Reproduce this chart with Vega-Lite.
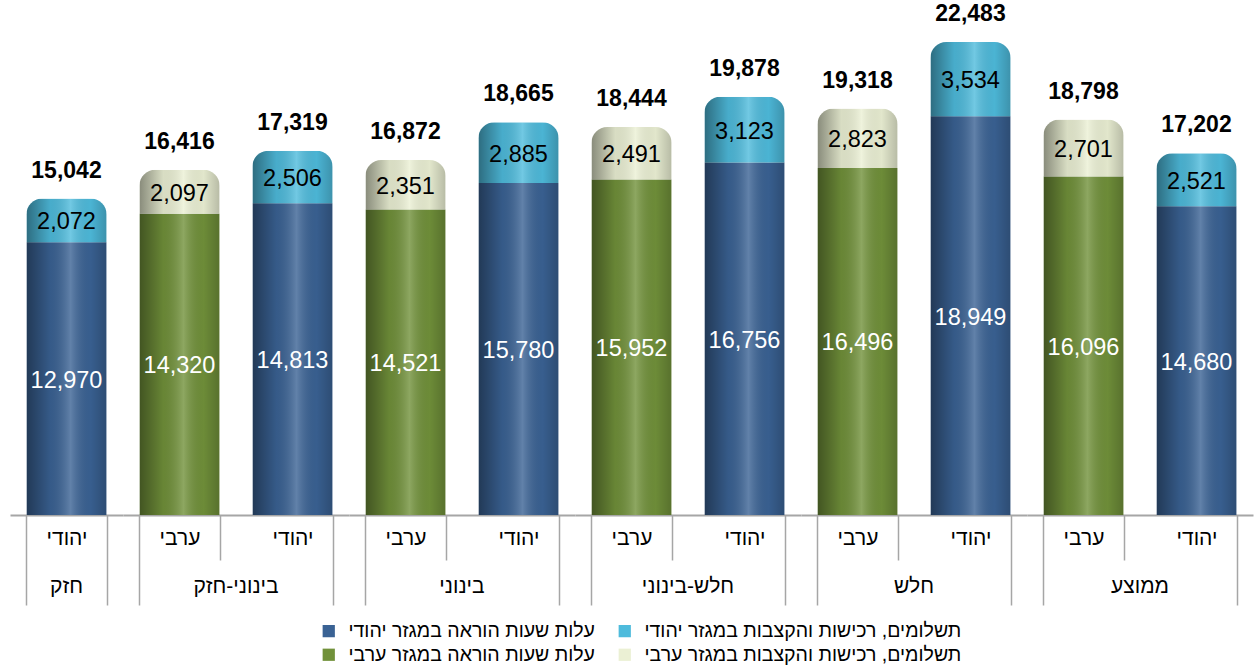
{
  "$schema": "https://vega.github.io/schema/vega-lite/v6.json",
  "padding": {"left": 10, "top": 0, "right": 5, "bottom": 0},
  "background": "white",
  "config": {"view": {"stroke": null}, "font": "Liberation Sans"},
  "data": {"values": [
    {"group": "חזק", "sector": "יהודי", "part": "עלות שעות הוראה במגזר יהודי", "kind": "teach", "value": 12970, "total": 15042},
    {"group": "חזק", "sector": "יהודי", "part": "תשלומים, רכישות והקצבות במגזר יהודי", "kind": "pay", "value": 2072, "total": 15042},
    {"group": "בינוני-חזק", "sector": "ערבי", "part": "עלות שעות הוראה במגזר ערבי", "kind": "teach", "value": 14320, "total": 16416},
    {"group": "בינוני-חזק", "sector": "ערבי", "part": "תשלומים, רכישות והקצבות במגזר ערבי", "kind": "pay", "value": 2097, "total": 16416},
    {"group": "בינוני-חזק", "sector": "יהודי", "part": "עלות שעות הוראה במגזר יהודי", "kind": "teach", "value": 14813, "total": 17319},
    {"group": "בינוני-חזק", "sector": "יהודי", "part": "תשלומים, רכישות והקצבות במגזר יהודי", "kind": "pay", "value": 2506, "total": 17319},
    {"group": "בינוני", "sector": "ערבי", "part": "עלות שעות הוראה במגזר ערבי", "kind": "teach", "value": 14521, "total": 16872},
    {"group": "בינוני", "sector": "ערבי", "part": "תשלומים, רכישות והקצבות במגזר ערבי", "kind": "pay", "value": 2351, "total": 16872},
    {"group": "בינוני", "sector": "יהודי", "part": "עלות שעות הוראה במגזר יהודי", "kind": "teach", "value": 15780, "total": 18665},
    {"group": "בינוני", "sector": "יהודי", "part": "תשלומים, רכישות והקצבות במגזר יהודי", "kind": "pay", "value": 2885, "total": 18665},
    {"group": "חלש-בינוני", "sector": "ערבי", "part": "עלות שעות הוראה במגזר ערבי", "kind": "teach", "value": 15952, "total": 18444},
    {"group": "חלש-בינוני", "sector": "ערבי", "part": "תשלומים, רכישות והקצבות במגזר ערבי", "kind": "pay", "value": 2491, "total": 18444},
    {"group": "חלש-בינוני", "sector": "יהודי", "part": "עלות שעות הוראה במגזר יהודי", "kind": "teach", "value": 16756, "total": 19878},
    {"group": "חלש-בינוני", "sector": "יהודי", "part": "תשלומים, רכישות והקצבות במגזר יהודי", "kind": "pay", "value": 3123, "total": 19878},
    {"group": "חלש", "sector": "ערבי", "part": "עלות שעות הוראה במגזר ערבי", "kind": "teach", "value": 16496, "total": 19318},
    {"group": "חלש", "sector": "ערבי", "part": "תשלומים, רכישות והקצבות במגזר ערבי", "kind": "pay", "value": 2823, "total": 19318},
    {"group": "חלש", "sector": "יהודי", "part": "עלות שעות הוראה במגזר יהודי", "kind": "teach", "value": 18949, "total": 22483},
    {"group": "חלש", "sector": "יהודי", "part": "תשלומים, רכישות והקצבות במגזר יהודי", "kind": "pay", "value": 3534, "total": 22483},
    {"group": "ממוצע", "sector": "ערבי", "part": "עלות שעות הוראה במגזר ערבי", "kind": "teach", "value": 16096, "total": 18798},
    {"group": "ממוצע", "sector": "ערבי", "part": "תשלומים, רכישות והקצבות במגזר ערבי", "kind": "pay", "value": 2701, "total": 18798},
    {"group": "ממוצע", "sector": "יהודי", "part": "עלות שעות הוראה במגזר יהודי", "kind": "teach", "value": 14680, "total": 17202},
    {"group": "ממוצע", "sector": "יהודי", "part": "תשלומים, רכישות והקצבות במגזר יהודי", "kind": "pay", "value": 2521, "total": 17202}
  ]},
  "facet": {
    "column": {
      "field": "group", "type": "nominal",
      "sort": ["חזק", "בינוני-חזק", "בינוני", "חלש-בינוני", "חלש", "ממוצע"],
      "title": null,
      "header": {"labelOrient": "bottom", "labelFontSize": 21, "labelFont": "Liberation Sans", "labelColor": "black", "labelPadding": 61, "title": null}
    }
  },
  "spacing": 0,
  "bounds": "flush",
  "resolve": {"scale": {"x": "independent"}},
  "spec": {
    "width": {"step": 113},
    "height": 515,
    "encoding": {
      "x": {
        "field": "sector", "type": "nominal", "sort": ["ערבי", "יהודי"],
        "scale": {"paddingInner": 0.29, "paddingOuter": 0.145},
        "axis": {
          "title": null, "labelAngle": 0, "labelFontSize": 21, "labelFont": "Liberation Sans", "labelColor": "black",
          "labelBaseline": "middle",
          "labelPadding": {"condition": {"test": "datum.value === 'ערבי'", "value": -22}, "value": -67},
          "tickBand": "extent", "tickColor": "#A6A6A6", "tickWidth": 1.5,
          "tickSize": {"condition": {"test": "datum.value === 'ערבי'", "value": 45}, "value": 90},
          "domainColor": "#A6A6A6", "domainWidth": 2,
          "minExtent": 45, "maxExtent": 45
        }
      }
    },
    "layer": [
      {
        "mark": {"type": "bar", "cornerRadiusTopLeft": 16, "cornerRadiusTopRight": 16},
        "encoding": {
          "y": {"field": "value", "type": "quantitative", "stack": "zero", "scale": {"domain": [0, 24480], "nice": false}, "axis": null},
          "color": {
            "field": "part", "type": "nominal",
            "scale": {
              "domain": ["עלות שעות הוראה במגזר יהודי", "עלות שעות הוראה במגזר ערבי", "תשלומים, רכישות והקצבות במגזר יהודי", "תשלומים, רכישות והקצבות במגזר ערבי"],
              "range": ["#3A6294", "#71913A", "#4EBBDC", "#EBF0D4"]
            },
            "legend": {"title": null, "orient": "none", "legendX": 309, "legendY": 621, "columns": 2, "direction": "vertical", "symbolType": "square", "symbolSize": 150, "symbolStrokeWidth": 0, "labelFontSize": 19.5, "labelFont": "Liberation Sans", "labelColor": "black", "labelLimit": 400, "labelOffset": 10, "columnPadding": 20, "rowPadding": 3}
          },
          "order": {"field": "kind", "sort": "descending"}
        }
      },
      {
        "mark": {"type": "bar", "cornerRadiusTopLeft": 16, "cornerRadiusTopRight": 16,
          "color": {"gradient": "linear", "x1": 0, "x2": 1, "y1": 0, "y2": 0, "stops": [
            {"offset": 0, "color": "rgba(0,0,0,0.42)"},
            {"offset": 0.3, "color": "rgba(0,0,0,0.08)"},
            {"offset": 0.55, "color": "rgba(255,255,255,0.2)"},
            {"offset": 0.8, "color": "rgba(0,0,0,0.04)"},
            {"offset": 1, "color": "rgba(0,0,0,0.22)"}]}},
        "encoding": {
          "y": {"field": "value", "type": "quantitative", "stack": "zero"},
          "detail": {"field": "part"},
          "order": {"field": "kind", "sort": "descending"}
        }
      },
      {
        "mark": {"type": "text", "fontSize": 23.5, "baseline": "middle", "dy": 2, "font": "Liberation Sans"},
        "encoding": {
          "y": {"field": "value", "type": "quantitative", "stack": "zero", "bandPosition": 0.5},
          "detail": {"field": "part"},
          "order": {"field": "kind", "sort": "descending"},
          "text": {"field": "value", "type": "quantitative", "format": ","},
          "color": {"condition": {"test": "datum.kind === 'teach'", "value": "white"}, "value": "black"}
        }
      },
      {
        "transform": [{"filter": "datum.kind === 'pay'"}],
        "mark": {"type": "text", "fontSize": 23, "fontWeight": "bold", "baseline": "alphabetic", "dy": -21, "font": "Liberation Sans", "color": "black"},
        "encoding": {
          "y": {"field": "total", "type": "quantitative"},
          "text": {"field": "total", "type": "quantitative", "format": ","}
        }
      }
    ]
  }
}
